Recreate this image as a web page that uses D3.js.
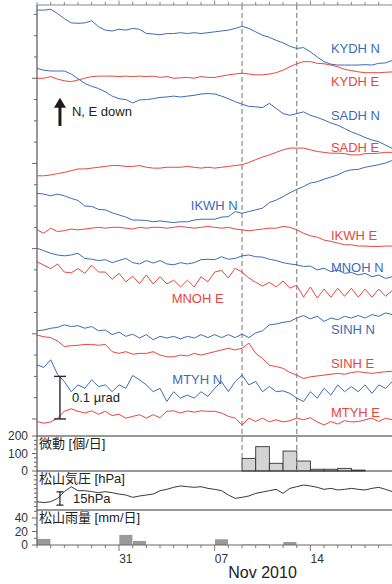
<!DOCTYPE html>
<html>
<head>
<meta charset="utf-8">
<script src="https://cdn.jsdelivr.net/npm/d3@7"></script>
<style>
  html, body { margin: 0; padding: 0; background: #fff; }
  svg { display: block; font-family: "Liberation Sans", Arial, "Noto Sans CJK JP", sans-serif; }
</style>
</head>
<body>
<svg id="chart" width="392" height="584"></svg>
<script>
// tilt records in nrad, one sample every 12 h from 2010-10-25 00:00,
// each relative to its own first sample (up = positive)
const kydhN = [0,0,2,-8,-20,-30,-31,-30,-25,-39,-47,-49,-45,-47,-43,-45,-55,-56,-58,-55,-55,-53,-55,-53,-55,-53,-51,-49,-47,-43,-38,-43,-51,-59,-64,-71,-77,-85,-90,-88,-98,-110,-121,-127,-129,-129,-129,-129,-128,-129,-125,-124,-118];
const kydhE = [0,0,4,-2,-6,-8,-4,0,4,5,5,5,4,5,4,5,4,5,2,4,0,1,2,0,4,2,2,5,8,10,12,10,8,8,10,13,19,27,34,39,39,35,34,31,27,21,18,15,13,13,13,14,15];
const sadhN = [0,-4,-6,-6,-6,-13,-24,-35,-42,-47,-55,-65,-71,-73,-81,-74,-73,-71,-68,-67,-65,-67,-65,-63,-60,-59,-60,-65,-71,-78,-84,-89,-90,-92,-82,-94,-106,-110,-106,-102,-110,-115,-121,-128,-133,-141,-149,-155,-162,-168,-172,-180,-188];
const sadhE = [0,0,2,5,8,12,16,16,18,20,22,24,24,22,22,24,20,18,18,20,20,20,22,20,18,20,18,20,22,24,26,31,38,44,49,55,61,65,65,65,61,57,55,53,53,52,49,49,52,52,53,55,55];
const ikwhN = [0,-2,-6,-2,-6,-12,-17,-30,-31,-38,-39,-46,-51,-56,-63,-63,-64,-67,-65,-67,-69,-67,-67,-63,-61,-61,-61,-56,-55,-43,-47,-43,-39,-35,-22,-16,-8,1,9,16,24,27,33,38,43,51,55,56,61,64,67,71,77];
const ikwhE = [0,-8,4,-4,-2,2,0,2,4,6,4,6,6,4,2,6,4,6,6,4,6,8,6,4,6,8,6,4,6,2,0,-2,0,2,4,4,8,6,0,-8,-14,-17,-24,-27,-31,-35,-35,-38,-38,-39,-39,-38,-38];
const mnohN = [0,-6,-12,-16,-18,-16,-12,-24,-26,-29,-27,-34,-29,-24,-34,-37,-29,-35,-29,-37,-39,-34,-37,-34,-27,-26,-27,-20,-26,-24,-18,-16,-20,-21,-26,-29,-34,-37,-39,-43,-42,-51,-47,-55,-51,-59,-57,-63,-59,-67,-63,-71,-67];
const mnohE = [0,-8,-16,-5,-24,-26,-16,-27,-8,-24,-24,-41,-27,-47,-34,-51,-31,-52,-35,-52,-43,-59,-43,-59,-35,-47,-24,-20,-38,-15,-24,-38,-48,-57,-48,-59,-45,-62,-55,-83,-59,-85,-64,-83,-62,-81,-62,-83,-64,-83,-64,-81,-67];
const sinhN = [0,2,6,8,14,10,12,6,10,0,2,-9,-3,-13,-8,-17,-9,-21,-13,-17,-13,-19,-13,-17,-9,-16,-9,-16,-9,-16,-8,-16,-5,0,14,16,20,22,30,36,28,34,22,30,26,34,30,36,30,38,34,42,38];
const sinhE = [0,-4,-6,-14,-27,-25,-24,-22,-22,-24,-22,-39,-43,-39,-45,-43,-43,-39,-47,-51,-51,-47,-49,-43,-47,-43,-39,-35,-31,-35,-31,-19,-43,-55,-71,-74,-78,-88,-94,-102,-98,-96,-94,-92,-90,-92,-88,-86,-88,-90,-88,-86,-85];
const mtyhN = [0,-6,12,-22,-39,-63,-47,-55,-35,-51,-47,-63,-47,-55,-25,-35,-47,-63,-55,-86,-63,-78,-71,-78,-63,-74,-55,-39,-63,-39,-24,-47,-39,-63,-51,-63,-61,-67,-78,-86,-63,-78,-55,-71,-47,-63,-51,-63,-47,-67,-47,-55,-39];
const mtyhE = [0,-4,-1,8,24,30,24,20,25,17,24,14,17,8,12,16,8,16,9,24,25,20,25,22,25,24,24,20,12,8,-8,8,0,8,-1,4,-1,2,8,4,9,-1,-8,0,-6,2,-1,0,4,8,0,8,4];

const stationNames = ['KYDH N','KYDH E','SADH N','SADH E','IKWH N','IKWH E','MNOH N','MNOH E','SINH N','SINH E','MTYH N','MTYH E'];
const stationSeries = [kydhN,kydhE,sadhN,sadhE,ikwhN,ikwhE,mnohN,mnohE,sinhN,sinhE,mtyhN,mtyhE];
// stacking baseline of each trace (nrad on the plot axis)
const traceOffsets = [960,800,823,571,530,444,401,369,207,197,127,-6];

// Matsuyama pressure (hPa), every 12 h from 2010-10-25
const pressure = [1010.4,1009.3,1010.4,1014.1,1021.7,1027.3,1022.8,1022.8,1021.7,1020.5,1021.7,1020.5,1019.0,1017.9,1015.3,1016.8,1017.9,1019.0,1022.8,1024.3,1026.6,1028.1,1027.3,1026.6,1027.3,1025.4,1024.3,1022.8,1017.9,1014.1,1015.3,1016.8,1019.8,1021.3,1022.8,1024.3,1019.8,1025.4,1027.3,1029.2,1028.1,1026.6,1024.3,1025.4,1023.6,1024.3,1025.4,1024.3,1023.6,1025.4,1026.6,1024.3,1021.7];

// tremor count per day, from 2010-11-09
const tremorCounts = [72,139,44,114,57,10,10,15,5];
// Matsuyama rain (mm/day), from 2010-10-25
const rainfall = [9,0,0,0,0,0,15,6,0,0,0,0,0,8.5,0,0.7,0.7,0,4.5,0,0,0,0,0,0,0];

const eventDates = [new Date(2010,10,9), new Date(2010,10,13)];
const weekTicks = [new Date(2010,9,31), new Date(2010,10,7), new Date(2010,10,14)];
const weekLabels = ['31','07','14'];

const startDate = new Date(2010,9,25);
const stepMs = 12 * 3600e3;
const dayMs = 24 * 3600e3;

const blue = '#3b6cb5', red = '#e8463d';

const svg = d3.select('#chart');

const x = d3.scaleTime().domain([startDate, new Date(2010,10,20)]).range([37, 392.4]);
const yTilt = d3.scaleLinear().domain([-40, 972]).range([436, 5]);
const yTrem = d3.scaleLinear().domain([0, 200]).range([471, 436]);
const yPres = d3.scaleLinear().domain([1001, 1045]).range([510, 471]);
const yRain = d3.scaleLinear().domain([0, 40]).range([545, 518]);
const left = 37, right = 392.4;

svg.append('clipPath').attr('id', 'clipTilt')
  .append('rect').attr('x', left).attr('y', 5).attr('width', right - left).attr('height', 431);

// rain bars
svg.append('g').selectAll('rect').data(rainfall).join('rect')
  .attr('x', (d, i) => x(new Date(+startDate + i * dayMs)) + 0.3)
  .attr('width', (d, i) => x(new Date(+startDate + (i + 1) * dayMs)) - x(new Date(+startDate + i * dayMs)) - 0.6)
  .attr('y', d => yRain(d))
  .attr('height', d => yRain(0) - yRain(d))
  .attr('fill', '#9a9a9a');

// tremor bars
const tremorStart = new Date(2010,10,9);
svg.append('g').selectAll('rect').data(tremorCounts).join('rect')
  .attr('x', (d, i) => x(new Date(+tremorStart + i * dayMs)))
  .attr('width', (d, i) => x(new Date(+tremorStart + (i + 1) * dayMs)) - x(new Date(+tremorStart + i * dayMs)))
  .attr('y', d => yTrem(d))
  .attr('height', d => yTrem(0) - yTrem(d))
  .attr('fill', '#d4d4d4').attr('stroke', '#333').attr('stroke-width', 0.9);

// event lines
svg.append('g').selectAll('line').data(eventDates).join('line')
  .attr('x1', d => x(d)).attr('x2', d => x(d))
  .attr('y1', 5).attr('y2', yTrem(0))
  .attr('stroke', '#8c8c8c').attr('stroke-width', 1.2).attr('stroke-dasharray', '5,3');

// tilt traces
const tiltG = svg.append('g').attr('clip-path', 'url(#clipTilt)');
stationSeries.forEach((vals, k) => {
  const line = d3.line()
    .x((d, i) => x(new Date(+startDate + i * stepMs)))
    .y(d => yTilt(d + traceOffsets[k]));
  tiltG.append('path').attr('d', line(vals))
    .attr('fill', 'none')
    .attr('stroke', stationNames[k].endsWith('N') ? blue : red)
    .attr('stroke-width', 1).attr('stroke-linejoin', 'round');
});

// trace labels: [day offset, nrad]
const labelPos = [[21.5,859],[21.5,782],[21.5,702],[21.5,627],[11.25,491],[21.5,420],[21.5,346],[9.85,272],[21.5,200],[21.5,119],[9.9,82],[21.5,5]];
svg.append('g').selectAll('text').data(stationNames).join('text')
  .attr('x', (d, i) => x(new Date(+startDate + labelPos[i][0] * dayMs)))
  .attr('y', (d, i) => yTilt(labelPos[i][1]))
  .attr('font-size', 13)
  .attr('fill', d => d.endsWith('N') ? blue : red)
  .text(d => d);

// pressure line
svg.append('path')
  .attr('d', d3.line().x((d, i) => x(new Date(+startDate + i * stepMs))).y(d => yPres(d))(pressure))
  .attr('fill', 'none').attr('stroke', '#222').attr('stroke-width', 0.9);

// frame
const frame = svg.append('g').attr('stroke-width', 1.2);
frame.append('line').attr('x1', left).attr('x2', right).attr('y1', 5).attr('y2', 5).attr('stroke', '#888');
frame.append('line').attr('x1', left).attr('x2', left).attr('y1', 5).attr('y2', yRain(0)).attr('stroke', '#555');
[yTrem(200), yTrem(0), yPres(1001)].forEach(yy => {
  frame.append('line').attr('x1', left).attr('x2', right).attr('y1', yy).attr('y2', yy).attr('stroke', '#333');
});
frame.append('line').attr('x1', left).attr('x2', right).attr('y1', yRain(0)).attr('y2', yRain(0)).attr('stroke', '#666');

// time ticks top and bottom
const days = d3.timeDay.range(startDate, new Date(2010,10,21));
const isWeek = d => weekTicks.some(w => +w === +d);
svg.append('g').selectAll('line').data(days).join('line')
  .attr('x1', d => x(d)).attr('x2', d => x(d))
  .attr('y1', 5).attr('y2', d => isWeek(d) ? 0.5 : 2)
  .attr('stroke', '#888').attr('stroke-width', 1);
svg.append('g').selectAll('line').data(days).join('line')
  .attr('x1', d => x(d)).attr('x2', d => x(d))
  .attr('y1', yRain(0)).attr('y2', d => yRain(0) + (isWeek(d) ? 6 : 3))
  .attr('stroke', '#777').attr('stroke-width', 1);

svg.append('g').selectAll('text').data(weekTicks).join('text')
  .attr('x', d => x(new Date(+d + dayMs / 2)))
  .attr('y', 563)
  .attr('text-anchor', 'middle').attr('font-size', 12).attr('fill', '#333')
  .text((d, i) => weekLabels[i]);
svg.append('text')
  .attr('x', x(new Date(2010,10,10,12))).attr('y', 578)
  .attr('text-anchor', 'middle').attr('font-size', 16).attr('fill', '#222')
  .text('Nov 2010');

// left ticks
function leftTicks(values, scale, isMajor) {
  svg.append('g').selectAll('line').data(values).join('line')
    .attr('x1', left).attr('x2', d => left - (isMajor(d) ? 5 : 3))
    .attr('y1', d => scale(d)).attr('y2', d => scale(d))
    .attr('stroke', '#666').attr('stroke-width', 1);
}
leftTicks(d3.range(0, 951, 50), yTilt, d => d % 200 === 0);
leftTicks(d3.range(0, 201, 25), yTrem, d => d % 100 === 0);
leftTicks(d3.range(1005, 1041, 5), yPres, d => false);
leftTicks(d3.range(0, 51, 10), yRain, d => d % 20 === 0);

function leftLabels(values, scale) {
  svg.append('g').selectAll('text').data(values).join('text')
    .attr('x', 28).attr('y', d => scale(d))
    .attr('dy', '0.35em').attr('text-anchor', 'end')
    .attr('font-size', 12).attr('fill', '#333')
    .text(d => d);
}
leftLabels([0, 100, 200], yTrem);
leftLabels([0, 20, 40], yRain);

// panel titles
const panelTitles = [['微動 [個/日]', yTrem(200)], ['松山気圧 [hPa]', yPres(1045)], ['松山雨量 [mm/日]', yPres(1001)]];
svg.append('g').selectAll('text').data(panelTitles).join('text')
  .attr('x', 39).attr('y', d => d[1] + 12)
  .attr('font-size', 13).attr('fill', '#222')
  .text(d => d[0]);

// tilt scale bar 0.1 µrad
const barX = x(new Date(+startDate + 1.68 * dayMs));
const sb = svg.append('g').attr('stroke', '#2a2a2a').attr('stroke-width', 1.4);
sb.append('line').attr('x1', barX).attr('x2', barX).attr('y1', yTilt(0)).attr('y2', yTilt(100));
[0, 100].forEach(v => sb.append('line').attr('x1', barX - 6).attr('x2', barX + 6).attr('y1', yTilt(v)).attr('y2', yTilt(v)));
svg.append('text').attr('x', barX + 12).attr('y', yTilt(40)).attr('font-size', 13).attr('fill', '#222').text('0.1 µrad');

// direction arrow
const arrTop = yTilt(754), arrBot = yTilt(688);
svg.append('line').attr('x1', barX).attr('x2', barX).attr('y1', arrTop + 8).attr('y2', arrBot)
  .attr('stroke', '#231a14').attr('stroke-width', 3);
svg.append('path')
  .attr('d', `M${barX},${arrTop} L${barX - 6},${arrTop + 10} L${barX + 6},${arrTop + 10} Z`)
  .attr('fill', '#231a14');
svg.append('text').attr('x', barX + 12).attr('y', yTilt(711)).attr('font-size', 13).attr('fill', '#222').text('N, E down');

// pressure scale bar 15 hPa
const pb = svg.append('g').attr('stroke', '#222').attr('stroke-width', 1.2);
pb.append('line').attr('x1', barX).attr('x2', barX).attr('y1', yPres(1006.5)).attr('y2', yPres(1021.5));
[1006.5, 1021.5].forEach(v => pb.append('line').attr('x1', barX - 3.5).attr('x2', barX + 3.5).attr('y1', yPres(v)).attr('y2', yPres(v)));
svg.append('text').attr('x', barX + 13).attr('y', yPres(1008.6)).attr('font-size', 13).attr('fill', '#222').text('15hPa');
</script>
</body>
</html>
